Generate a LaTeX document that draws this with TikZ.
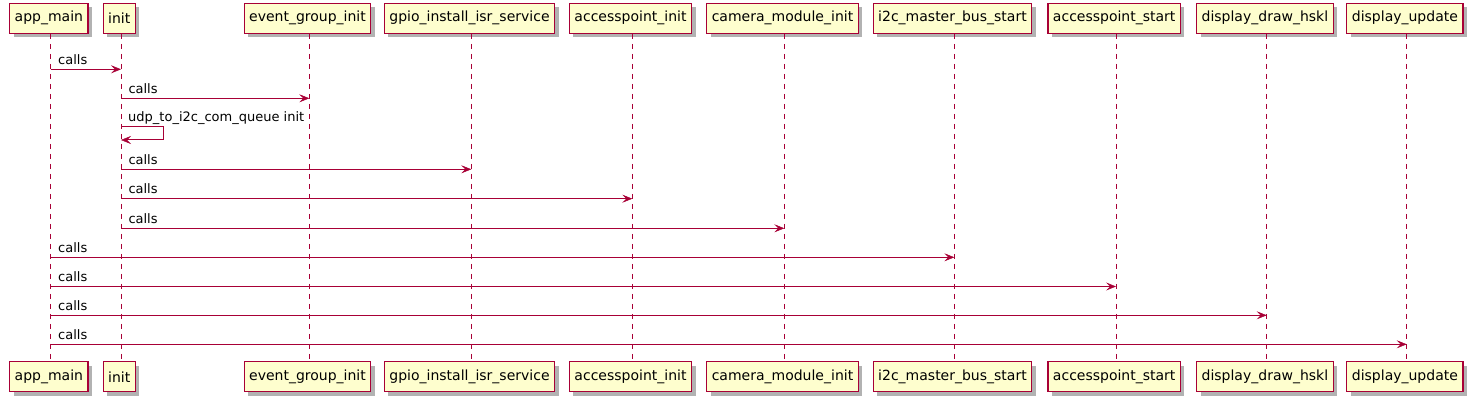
\documentclass[tikz,border=0pt]{standalone}
\usepackage{fontspec}
\setmainfont{DejaVu Sans}
\usetikzlibrary{arrows.meta,shadows}
\definecolor{umlred}{HTML}{A80036}
\definecolor{umlfill}{HTML}{FEFECE}

\begin{document}
\begin{tikzpicture}[x=1pt, y=-1pt,
  part/.style={draw=umlred, fill=umlfill, line width=1.2pt, minimum height=30pt,
    inner xsep=5pt, font=\fontsize{14}{16}\selectfont, text=black,
    drop shadow={shadow xshift=4pt, shadow yshift=-4pt, opacity=0.3, fill=black, draw=none}},
  life/.style={umlred, line width=0.8pt, dash pattern=on 5pt off 5pt},
  msg/.style={umlred, line width=1pt,
    -{Stealth[length=10pt, width=8pt, inset=4pt, fill=umlred, line width=0.5pt]}},
  lbl/.style={anchor=base west, inner sep=0pt, text=black, font=\fontsize{13}{15}\selectfont}]

  \useasboundingbox (0,0) rectangle (1473,401);

  % participants, top and bottom, with lifelines
  \foreach \n/\x/\t in {am/50.7/{app\_main}, ini/121/{init},
      eg/309.3/{event\_group\_init}, gp/471.3/{gpio\_install\_isr\_service},
      ai/632.3/{accesspoint\_init}, cm/784.3/{camera\_module\_init},
      im/954.3/{i2c\_master\_bus\_start}, as/1116/{accesspoint\_start},
      dd/1266.7/{display\_draw\_hskl}, du/1406.7/{display\_update}} {
    \coordinate (\n) at (\x,0);
    \node[part] (\n-t) at (\x-1.8, 18.3) {\t};
    \node[part] (\n-b) at (\x-1.8, 376.7) {\t};
    \draw[life] ([xshift=1.8pt]\n-t.south) -- ([xshift=1.8pt]\n-b.north);
  }

  % calls
  \foreach \a/\b/\y in {am/ini/69.3, ini/eg/98.3, ini/gp/169.3, ini/ai/198.7,
      ini/cm/228.3, am/im/257.3, am/as/286.5, am/dd/315.3, am/du/344.3} {
    \draw[msg] (\a |- 0,\y) -- (\b |- 0,\y)
      node[lbl, pos=0, xshift=7pt, yshift=5pt] {calls};
  }

  % self message on init
  \draw[msg] (ini |- 0,127) -- ++(42,0) |- (ini |- 0,140);
  \node[lbl] (selflbl) at ([xshift=7pt, yshift=5pt]ini |- 0,127) {udp\_to\_i2c\_com\_queue init};
\end{tikzpicture}
\end{document}
